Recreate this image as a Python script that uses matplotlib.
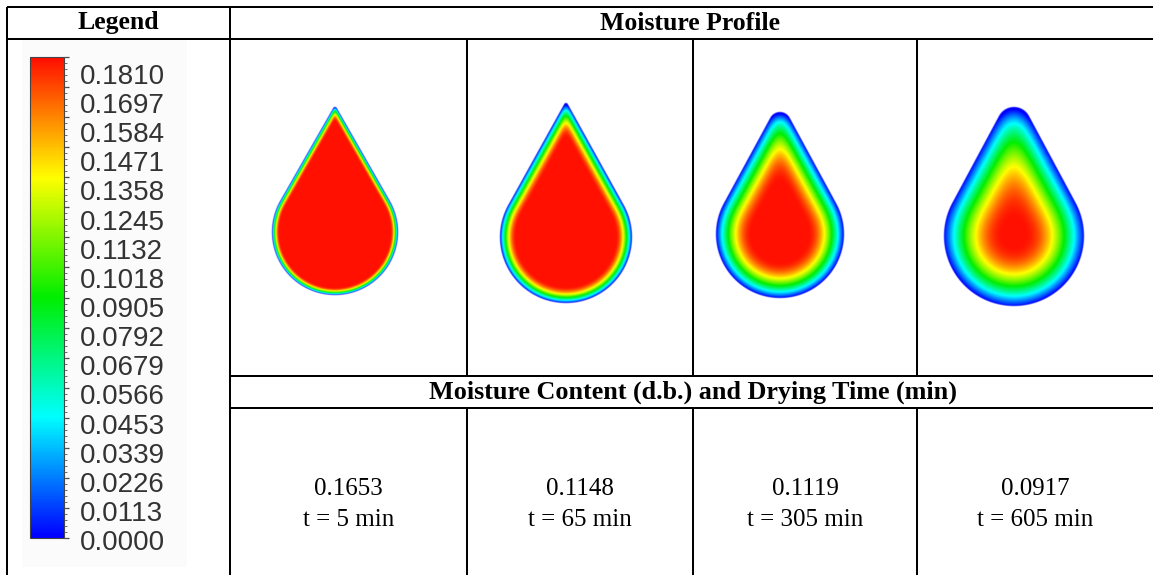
import numpy as np
import matplotlib
matplotlib.use("Agg")
import matplotlib.pyplot as plt
from matplotlib.colors import LinearSegmentedColormap, Normalize
from matplotlib.patches import Rectangle

# ---------------- data ----------------
legend_ticks = [0.1810, 0.1697, 0.1584, 0.1471, 0.1358, 0.1245, 0.1132, 0.1018,
                0.0905, 0.0792, 0.0679, 0.0566, 0.0453, 0.0339, 0.0226, 0.0113, 0.0000]
moisture_content = [0.1653, 0.1148, 0.1119, 0.0917]
drying_time = [5, 65, 305, 605]
# depth (px) of the half-moisture (green) front below the surface, read from each profile
front_depth = [2.5, 5.5, 12, 19]
vmin, vmax = 0.0, 0.1810

# ---------------- layout (pixels) ----------------
W, H = 1153, 575
# drop geometry: centre x, centre y of round part, radius, tip y, tip radius
drops = [
    (335, 232, 63, 107, 2),
    (566, 237, 66, 103, 2),
    (780, 234, 64, 112, 11),
    (1014, 236, 70, 107, 17),
]
col_edges = [230, 467, 693, 917, 1153]

cmap = LinearSegmentedColormap.from_list(
    "fluent", [(0.0, "#0000ff"), (0.25, "#00ffff"), (0.5, "#00ee00"),
               (0.75, "#ffff00"), (1.0, "#ff1000")])
norm = Normalize(vmin, vmax)

serif = ["Liberation Serif", "DejaVu Serif"]
sans = ["Liberation Sans", "DejaVu Sans"]

fig = plt.figure(figsize=(W / 100, H / 100), dpi=100)
ax = fig.add_axes([0, 0, 1, 1])
ax.set_xlim(0, W)
ax.set_ylim(H, 0)
ax.axis("off")

lw = 2 * 72 / 100

# ---------------- table lines ----------------
ax.hlines([7, 39], 7, W, color="black", lw=lw)
ax.vlines([7.3, 230], 7, H, color="black", lw=lw)
ax.hlines([376, 408], 230, W, color="black", lw=lw)
ax.vlines(col_edges[1:4], 39, 376, color="black", lw=lw)
ax.vlines(col_edges[1:4], 408, H, color="black", lw=lw)

# ---------------- headers ----------------
ax.text(118, 23, "Legend", family=serif, weight="bold", fontsize=18.5,
        ha="center", va="center")
ax.text(690, 23, "Moisture Profile", family=serif, weight="bold", fontsize=18.5,
        ha="center", va="center")
ax.text(693, 392, "Moisture Content (d.b.) and Drying Time (min)", family=serif,
        weight="bold", fontsize=18.8, ha="center", va="center")

# ---------------- legend colour bar ----------------
ax.add_patch(Rectangle((22, 39), 165, 528, facecolor="#fbfbfb", edgecolor="none", zorder=0))
bar_x0, bar_x1, bar_top, bar_bot = 30, 64, 57, 538
grad = np.linspace(vmin, vmax, 400).reshape(-1, 1)
ax.imshow(grad, cmap=cmap, norm=norm, extent=(bar_x0, bar_x1, bar_bot, bar_top),
          origin="lower", aspect="auto", interpolation="bilinear", zorder=2)
ax.add_patch(Rectangle((bar_x0, bar_top), bar_x1 - bar_x0, bar_bot - bar_top,
                       facecolor="none", edgecolor="#444444", lw=0.8, zorder=3))
# ticks along the bar
tv = np.array(legend_ticks)
ty = bar_bot - (tv - vmin) / (vmax - vmin) * (bar_bot - bar_top)
ax.hlines(ty, bar_x1, bar_x1 + 5, color="#444444", lw=0.9, zorder=3)
minor_v = np.linspace(vmin, vmax, 16 * 5 + 1)
minor_y = bar_bot - (minor_v - vmin) / (vmax - vmin) * (bar_bot - bar_top)
ax.hlines(minor_y, bar_x1, bar_x1 + 3, color="#555555", lw=0.6, zorder=3)
# labels
lab_top, lab_bot = 77, 543
for i, v in enumerate(legend_ticks):
    y = lab_top + i * (lab_bot - lab_top) / (len(legend_ticks) - 1)
    ax.text(80, y, f"{v:.4f}", family=sans, fontsize=20, color="#333333",
            ha="left", va="center")


# ---------------- moisture profiles ----------------
def sd_uneven_capsule(px, py, r1, r2, h):
    px = np.abs(px)
    b = (r1 - r2) / h
    a = np.sqrt(1 - b * b)
    k = -b * px + a * py
    d_low = np.hypot(px, py) - r1
    d_top = np.hypot(px, py - h) - r2
    d_mid = a * px + b * py - r1
    return np.where(k < 0, d_low, np.where(k > a * h, d_top, d_mid))


def gblur(a, sigma):
    if sigma < 0.5:
        return a
    r = int(3 * sigma) + 1
    xk = np.arange(-r, r + 1)
    k = np.exp(-xk ** 2 / (2 * sigma ** 2))
    k /= k.sum()
    p = np.pad(a, r, mode="edge")
    p = np.apply_along_axis(lambda v: np.convolve(v, k, mode="valid"), 1, p)
    p = np.apply_along_axis(lambda v: np.convolve(v, k, mode="valid"), 0, p)
    return p


for (cx, cy, R, tip_y, rt), depth in zip(drops, front_depth):
    x0, x1 = cx - R - 8, cx + R + 8
    y0, y1 = tip_y - 8, cy + R + 8
    sub = 2
    xs = np.arange(x0, x1, 1 / sub) + 0.5 / sub
    ys = np.arange(y0, y1, 1 / sub) + 0.5 / sub
    X, Y = np.meshgrid(xs, ys)
    sd = sd_uneven_capsule(X - cx, cy - Y, R, rt, (cy - tip_y) - rt)
    sdb = gblur(sd, 0.5 * depth * sub)
    dist = np.clip(-sdb, 0, None)
    u = vmax * np.sin(np.pi / 2 * np.clip(dist / (3 * depth), 0, 1))
    u = np.where(sd < 0, u, 0.0)
    rgba = cmap(norm(u))
    rgba[..., 3] = np.clip(0.5 - sd, 0, 1)
    ax.imshow(rgba, extent=(x0, x1, y1, y0), origin="upper", aspect="auto",
              interpolation="bilinear", zorder=2)

# ---------------- moisture content / time ----------------
for i, (m, t) in enumerate(zip(moisture_content, drying_time)):
    xc = (col_edges[i] + col_edges[i + 1]) / 2
    ax.text(xc, 489, f"{m:.4f}", family=serif, fontsize=18, ha="center", va="center")
    ax.text(xc, 520, f"t = {t} min", family=serif, fontsize=18, ha="center", va="center")

fig.savefig("out.png", dpi=100)
